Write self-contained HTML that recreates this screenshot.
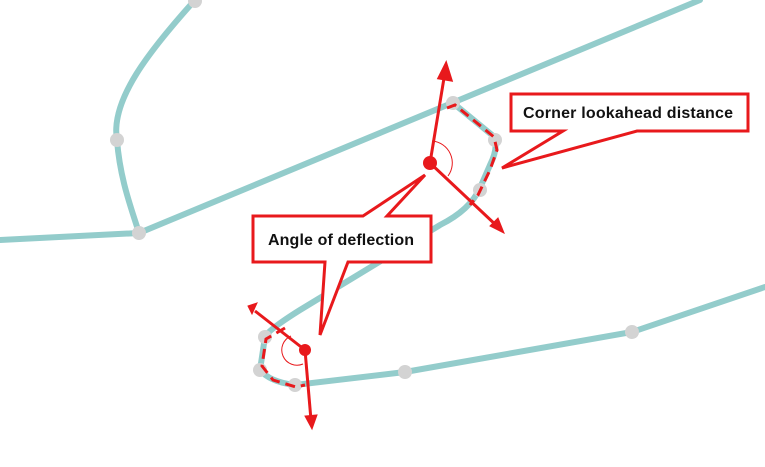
<!DOCTYPE html>
<html><head><style>html,body{margin:0;padding:0;background:#fff}svg{display:block}</style></head><body>
<svg width="765" height="467" viewBox="0 0 765 467" xmlns="http://www.w3.org/2000/svg">
<g fill="none" stroke="#93cccb" stroke-width="6" stroke-linecap="round">
<path d="M195,0 C150,50 110,100 117,140 C120,180 132,210 139,233"/>
<path d="M0,240 L139,233 L700,0"/>
<path d="M453,103 L492,135 Q500,145 490,165 L480,188 Q470,210 440,225 L300,310 Q268,330 265,337 L260,370 Q270,382 295,385 L405,372 L632,332 L765,287"/>
</g>
<g fill="#d3d3d3">
<circle cx="195" cy="1" r="7"/><circle cx="117" cy="140" r="7"/><circle cx="139" cy="233" r="7"/>
<circle cx="453" cy="103" r="7"/><circle cx="495" cy="140" r="7"/><circle cx="480" cy="190" r="7"/>
<circle cx="265" cy="337" r="7"/><circle cx="260" cy="370" r="7"/><circle cx="295" cy="385" r="7"/>
<circle cx="405" cy="372" r="7"/><circle cx="632" cy="332" r="7"/>
</g>
<g fill="none" stroke="#e8191c" stroke-width="3" stroke-dasharray="10,6">
<path d="M447,108 L455,105 L494,137 L497,150 L490,170 L478,195 L470,205"/>
<path d="M285,328 L266,339 L262,366 L273,380 L296,387 L305,385"/>
</g>
<g fill="none" stroke="#e8191c" stroke-width="1">
<path d="M432,141 A22,22 0 0 1 448,176"/>
<path d="M291,336 A15,15 0 0 0 303,364"/>
</g>
<g stroke="#e8191c" stroke-width="3" fill="#e8191c">
<line x1="430" y1="163" x2="445" y2="72"/><path d="M446,64 L439,78 L451,80 Z"/>
<line x1="430" y1="163" x2="498" y2="227"/><path d="M504,233 L490,226 L498,218 Z" stroke-width="1"/>
<line x1="305" y1="350" x2="255" y2="311"/><path d="M248,306 L257,303 L252,314 Z" stroke-width="1"/>
<line x1="305" y1="350" x2="311" y2="420"/><path d="M312,429 L305,416 L317,415 Z" stroke-width="1"/>
</g>
<circle cx="430" cy="163" r="7" fill="#e8191c"/>
<circle cx="305" cy="350" r="6" fill="#e8191c"/>
<path d="M511,94 H748 V131 H637 L502,168 L563,131 H511 Z" fill="#fff" stroke="#e8191c" stroke-width="3"/>
<path d="M253,216 H363 L425,175 L387,216 H431 V262 H348 L320,335 L325,262 H253 Z" fill="#fff" stroke="#e8191c" stroke-width="3"/>
<text x="523" y="118" font-family="Liberation Sans, sans-serif" font-weight="bold" font-size="16" fill="#111" textLength="210">Corner lookahead distance</text>
<text x="268" y="245" font-family="Liberation Sans, sans-serif" font-weight="bold" font-size="16" fill="#111" textLength="146">Angle of deflection</text>
</svg>
</body></html>
